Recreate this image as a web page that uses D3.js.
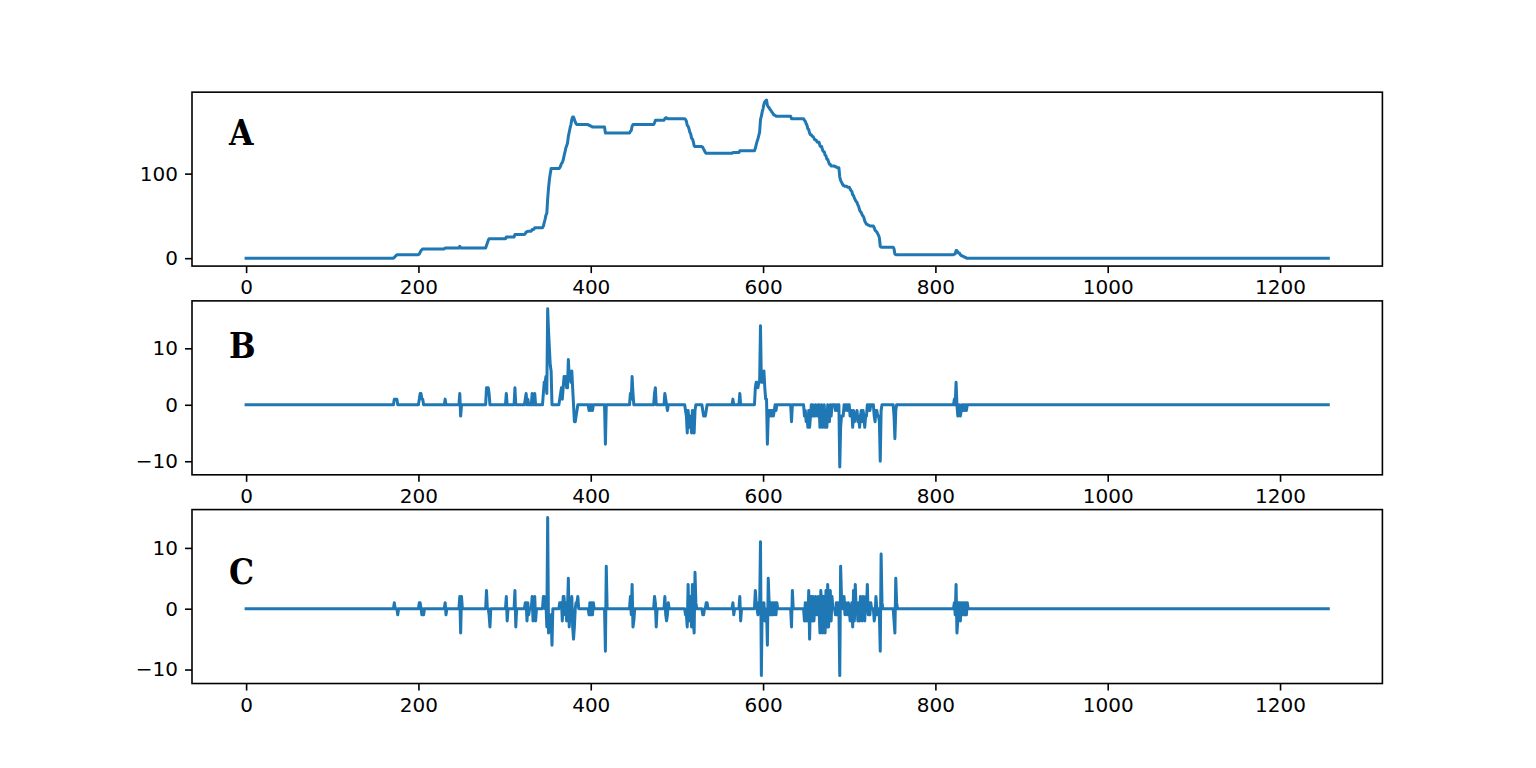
<!DOCTYPE html>
<html>
<head>
<meta charset="utf-8">
<script src="https://cdn.jsdelivr.net/npm/d3@7"></script>
<style>
  html, body { margin: 0; padding: 0; background: #fff; }
  svg { display: block; }
</style>
</head>
<body>
<svg id="chart" width="1536" height="768"></svg>
<script>
// ---------------- DATA ----------------
const nPoints = 1257;                       // samples 0 .. 1256
const xTicks = [0, 200, 400, 600, 800, 1000, 1200];
const aTicks = [0, 100];
const bTicks = [-10, 0, 10];
const cTicks = [-10, 0, 10];
const panelLabels = ["A", "B", "C"];

// Panel A: [index, value] breakpoints of the level series
const seriesA = [
  [0,0],[171,0],[172,1],[173,2],[174,3],[175,4],
  [200,4],[201,5],[202,7],[203,9],[204,10],[205,11],
  [230,11],[231,12],
  [247,12],[248,14],[249,12],
  [278,12],[279,15],[280,18],[281,21],[282,23],
  [301,23],[302,25],
  [311,25],[312,28],
  [323,28],[324,29],[325,31],[326,31],[327,32],
  [331,32],[332,34],[334,34],[335,36],
  [344,36],[345,38],[346,42],[347,46],[348,51],[349,53],[350,70],[351,83],[352,93],[353,100],[354,106],
  [363,106],[364,107],[365,109],[366,112],[367,113],[368,116],[369,121],[370,125],[371,130],[372,133],[373,136],[374,144],[375,149],[376,154],[377,158],[378,164],[379,167],
  [380,167],[381,164],[382,161],[383,159],[384,158],
  [397,158],[398,157],[399,157],[400,156],[401,156],[402,155],
  [416,155],[417,148],
  [445,148],[446,150],[447,151],[448,156],[449,158],
  [473,158],[474,160],[475,163],
  [485,163],[486,165],[487,166],[488,166],[489,165],
  [509,165],[510,164],[511,162],[512,157],[513,156],[514,153],[515,149],[516,147],[517,142],[518,141],[519,138],[520,133],[521,132],
  [529,132],[530,131],[531,129],[532,127],[533,125],[534,124],
  [564,124],[565,125],[572,125],[573,127],
  [590,127],[591,130],[592,134],[593,138],[594,141],[595,145],[596,149],[597,164],[598,168],[599,173],[600,177],[601,182],[602,185],[603,186],[604,187],
  [605,181],[606,179],[607,178],[608,176],[609,175],[610,173],[611,172],[612,170],[613,169],[614,169],[615,168],
  [632,168],[633,165],
  [647,165],[648,163],[649,162],[650,159],[651,157],[652,153],[653,152],[654,148],[655,146],[656,146],[657,144],[658,144],[659,142],[660,140],[661,140],[662,139],[663,137],[665,137],[666,133],[667,132],[668,132],[669,128],[670,126],[671,126],[672,122],[673,121],[674,117],[675,117],[676,114],[677,111],[678,111],[679,109],
  [683,109],[684,108],[685,108],[686,107],
  [688,107],[689,96],[690,92],[691,90],[692,88],[693,86],[694,86],[695,85],[697,85],[698,84],
  [700,84],[701,82],[702,80],[703,79],[704,75],[705,74],[706,71],[707,69],[708,67],[709,66],[710,63],[711,61],[712,57],[713,55],[714,54],[715,51],[716,50],[717,48],[718,44],[719,42],[720,40],
  [721,40],[722,39],[723,39],[724,38],
  [728,38],[729,36],[730,33],[731,32],[732,31],[733,29],[734,27],[735,24],[736,14],[737,13],
  [751,13],[752,11],[753,5],[754,4],
  [821,4],[822,5],[823,5],[824,9],[825,9],[826,7],[827,6],[828,6],[829,4],[830,3],[831,3],[832,2],[833,2],[834,1],[835,1],[836,0],
  [1256,0]
];

// Panel B: non-zero samples [index, value]; all other samples are 0
const spikesB = [
  [172,1],[173,1],[174,1],[175,1],
  [201,1],[202,2],[203,2],[204,1],[205,1],
  [231,1],
  [248,2],[249,-2],
  [279,3],[280,3],[281,3],[282,2],
  [302,2],[312,3],
  [324,1],[325,2],[327,1],
  [332,2],[335,2],
  [345,2],[346,4],[347,4],[348,5],[349,2],
  [350,17],[351,13],[352,10],[353,7],[354,6],
  [364,1],[365,2],[366,3],[367,1],[368,3],[369,5],[370,4],[371,5],[372,3],[373,3],[374,8],[375,5],[376,5],[377,4],[378,6],[379,3],
  [381,-3],[382,-3],[383,-2],[384,-1],
  [398,-1],[400,-1],[402,-1],
  [417,-7],
  [446,2],[447,1],[448,5],[449,2],
  [474,2],[475,3],
  [486,2],[487,1],[489,-1],
  [510,-1],[511,-2],[512,-5],[513,-1],[514,-3],[515,-4],[516,-2],[517,-5],[518,-1],[519,-3],[520,-5],[521,-1],
  [530,-1],[531,-2],[532,-2],[533,-2],[534,-1],
  [565,1],[573,2],
  [591,3],[592,4],[593,4],[594,3],[595,4],[596,4],[597,14],[598,4],[599,5],[600,4],[601,6],[602,3],[603,1],[604,1],
  [605,-7],[606,-2],[607,-1],[608,-2],[609,-1],[610,-2],[611,-1],[612,-2],[613,-1],[615,-1],
  [633,-3],
  [648,-2],[649,-1],[650,-3],[651,-2],[652,-4],[653,-1],[654,-4],[655,-2],[657,-2],[659,-2],[660,-2],[662,-1],[663,-2],[666,-4],[667,-1],[669,-4],[670,-2],[672,-4],[673,-1],[674,-4],[676,-3],[677,-3],[679,-2],
  [684,-1],[686,-1],
  [689,-11],[690,-4],[691,-2],[692,-2],[693,-2],[695,-1],[698,-1],
  [701,-2],[702,-2],[703,-1],[704,-4],[705,-1],[706,-3],[707,-2],[708,-2],[709,-1],[710,-3],[711,-2],[712,-4],[713,-2],[714,-1],[715,-3],[716,-1],[717,-2],[718,-4],[719,-2],[720,-2],
  [722,-1],[724,-1],
  [729,-2],[730,-3],[731,-1],[732,-1],[733,-2],[734,-2],[735,-3],[736,-10],[737,-1],
  [752,-2],[753,-6],[754,-1],
  [822,1],[824,4],[826,-2],[827,-1],[829,-2],[830,-1],[832,-1],[834,-1],[836,-1]
];

// Panel C: non-zero samples [index, value]; all other samples are 0
const spikesC = [
  [172,1],[176,-1],
  [201,1],[202,1],[204,-1],[206,-1],
  [231,1],[232,-1],
  [248,2],[249,-4],[250,2],
  [279,3],[282,-1],[283,-3],
  [302,2],[303,-2],
  [312,3],[313,-3],
  [324,1],[325,1],[326,-2],[327,1],[328,-1],
  [332,2],[333,-2],[335,2],[336,-2],
  [345,2],[346,2],[348,1],[349,-3],[350,15],[351,-4],[352,-3],[353,-3],[354,-1],[355,-6],
  [364,1],[365,1],[366,1],[367,-2],[368,2],[369,2],[370,-1],[371,1],[372,-2],[374,5],[375,-3],[377,-1],[378,2],[379,-3],[380,-5],[381,-3],[383,1],[384,1],[385,2],
  [398,-1],[399,1],[400,-1],[401,1],[402,-1],[403,1],
  [417,-7],[418,7],
  [446,2],[447,-1],[448,4],[449,-3],[450,-2],
  [474,2],[475,1],[476,-3],
  [486,2],[487,-1],[488,-2],[489,-1],[490,1],
  [510,-1],[511,-1],[512,-3],[513,4],[514,-2],[515,-1],[516,2],[517,-3],[518,4],[519,-2],[520,-4],[521,6],[522,1],
  [530,-1],[531,-1],[534,1],[535,1],
  [565,1],[566,-1],
  [573,2],[574,-2],
  [591,3],[592,1],[594,-1],[595,1],[597,11],[598,-11],[599,1],[600,-1],[601,1],[602,-2],[603,-2],[605,-6],[606,5],[607,1],[608,-1],[609,1],[610,-1],[611,1],[612,-1],[613,1],[614,1],[615,-1],[616,1],
  [633,-3],[634,3],
  [648,-2],[649,1],[650,-2],[651,1],[652,-2],[653,3],[654,-5],[655,2],[656,2],[657,-2],[658,2],[659,-2],[661,2],[662,-1],[663,-1],[664,2],[666,-4],[667,3],[668,1],[669,-4],[670,2],[671,2],[672,-4],[673,3],[674,-3],[675,4],[676,-3],[678,3],[679,-2],[680,2],
  [684,-1],[685,1],[686,-1],[687,1],
  [689,-11],[690,7],[691,2],[694,2],[695,-1],[696,1],[698,-1],[699,1],
  [701,-2],[703,1],[704,-3],[705,3],[706,-2],[707,4],[709,1],[710,-2],[711,1],[712,-2],[713,2],[714,1],[715,-2],[716,2],[717,-1],[718,-2],[719,2],[721,4],
  [722,-1],[723,1],[724,-1],[725,1],
  [729,-2],[730,-1],[731,2],[733,-1],[735,-1],[736,-7],[737,9],[738,1],
  [752,-2],[753,-4],[754,5],[755,1],
  [822,1],[823,-1],[824,4],[825,-4],[826,-2],[827,1],[828,1],[829,-2],[830,1],[831,1],[832,-1],[833,1],[834,-1],[835,1],[836,-1],[837,1]
];

// ---------------- DRAWING ----------------
const svg = d3.select("#chart");
const W = 1536, H = 768;
const left = 0.125 * W, right = 0.9 * W;
const top0 = (1 - 0.88) * H, bottom0 = (1 - 0.11) * H;
const axH = (bottom0 - top0) / 3.4, gap = axH * 0.2;
const color = "#1f77b4";
const pt = 2;              // points to px (figure rendered at 144 dpi)
const tickFont = "'DejaVu Sans', sans-serif";
const tickSizePx = 10 * pt;

function dense(spikes) {
  const m = new Map(spikes);
  return d3.range(nPoints).map(i => [i, m.has(i) ? m.get(i) : 0]);
}

function extentPad(vals) {
  const [mn, mx] = d3.extent(vals);
  const r = mx - mn;
  return [mn - 0.05 * r, mx + 0.05 * r];
}

const L = nPoints - 1;
const x = d3.scaleLinear().domain([-0.05 * L, 1.05 * L]).range([left, right]);

const panels = [
  { data: seriesA, ticks: aTicks, label: panelLabels[0], labelY: 0.695 },
  { data: dense(spikesB), ticks: bTicks, label: panelLabels[1], labelY: 0.67 },
  { data: dense(spikesC), ticks: cTicks, label: panelLabels[2], labelY: 0.57 }
];

panels.forEach((p, k) => {
  const y0 = top0 + k * (axH + gap);
  const y1 = y0 + axH;
  const y = d3.scaleLinear().domain(extentPad(p.data.map(d => d[1]))).range([y1, y0]);
  const g = svg.append("g");

  // line
  const line = d3.line().x(d => x(d[0])).y(d => y(d[1]));
  g.append("path")
    .datum(p.data)
    .attr("d", line)
    .attr("fill", "none")
    .attr("stroke", color)
    .attr("stroke-width", 1.5 * pt)
    .attr("stroke-linejoin", "round")
    .attr("stroke-linecap", "square");

  // axes
  const xa = d3.axisBottom(x).tickValues(xTicks).tickSize(3.5 * pt).tickPadding(3.5 * pt).tickFormat(d3.format("d"));
  const ya = d3.axisLeft(y).tickValues(p.ticks).tickSize(3.5 * pt).tickPadding(3.5 * pt).tickFormat(d3.format("d"));
  const gx = g.append("g").attr("transform", `translate(0,${y1})`).call(xa);
  const gy = g.append("g").attr("transform", `translate(${left},0)`).call(ya);
  [gx, gy].forEach(a => {
    a.select(".domain").remove();
    a.selectAll(".tick line").attr("stroke", "#000").attr("stroke-width", 0.8 * pt);
    a.selectAll(".tick text").attr("fill", "#000").style("font-family", tickFont).style("font-size", tickSizePx + "px");
  });

  // frame
  g.append("rect")
    .attr("x", left).attr("y", y0)
    .attr("width", right - left).attr("height", axH)
    .attr("fill", "none").attr("stroke", "#000").attr("stroke-width", 0.8 * pt);

  // panel label
  g.append("text")
    .attr("x", left + 0.031 * (right - left))
    .attr("y", y0 + (1 - p.labelY) * axH)
    .text(p.label)
    .style("font-family", "'DejaVu Serif Condensed', 'DejaVu Serif', serif")
    .style("font-stretch", "condensed")
    .style("font-weight", "bold")
    .style("font-size", "35px")
    .attr("fill", "#000");
});
</script>
</body>
</html>
